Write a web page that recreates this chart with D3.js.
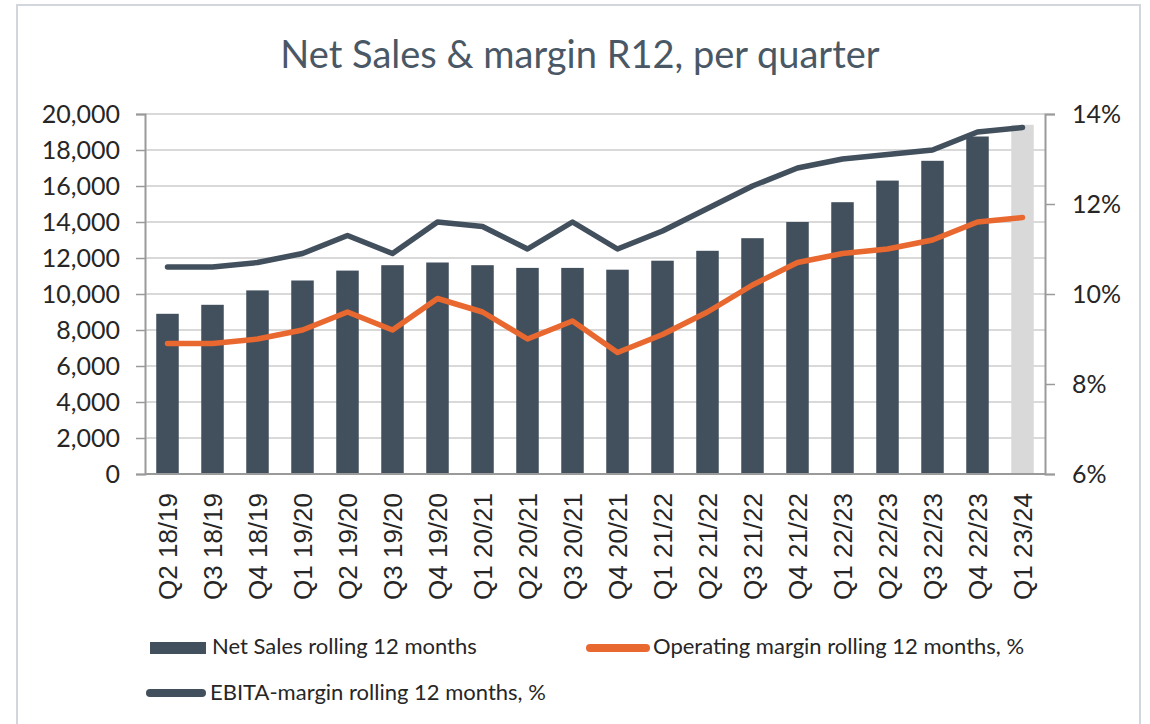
<!DOCTYPE html>
<html>
<head>
<meta charset="utf-8">
<script src="https://cdn.jsdelivr.net/npm/d3@7"></script>
<style>
  html, body { margin: 0; padding: 0; background: #fff; }
  svg { display: block; }
</style>
</head>
<body>
<div id="chart"></div>
<script>
const quarters = ["Q2 18/19", "Q3 18/19", "Q4 18/19", "Q1 19/20", "Q2 19/20", "Q3 19/20", "Q4 19/20",
  "Q1 20/21", "Q2 20/21", "Q3 20/21", "Q4 20/21", "Q1 21/22", "Q2 21/22", "Q3 21/22", "Q4 21/22",
  "Q1 22/23", "Q2 22/23", "Q3 22/23", "Q4 22/23", "Q1 23/24"];
const netSales = [8900, 9400, 10200, 10750, 11300, 11600, 11750, 11600, 11450, 11450, 11350,
  11850, 12400, 13100, 14000, 15100, 16300, 17400, 18750, 19400];
const operatingMargin = [8.9, 8.9, 9.0, 9.2, 9.6, 9.2, 9.9, 9.6, 9.0, 9.4, 8.7,
  9.1, 9.6, 10.2, 10.7, 10.9, 11.0, 11.2, 11.6, 11.7];
const ebitaMargin = [10.6, 10.6, 10.7, 10.9, 11.3, 10.9, 11.6, 11.5, 11.0, 11.6, 11.0,
  11.4, 11.9, 12.4, 12.8, 13.0, 13.1, 13.2, 13.6, 13.7];
const leftTicks = [0, 2000, 4000, 6000, 8000, 10000, 12000, 14000, 16000, 18000, 20000];
const rightTicks = [6, 8, 10, 12, 14];

const W = 1150, H = 724;
const plot = { left: 145, right: 1045, top: 114, bottom: 474 };
const slate = "#424f5d";
const orange = "#e8682f";
const grey = "#d9d9d9";

const svg = d3.select("#chart").append("svg")
  .attr("width", W)
  .attr("height", H);

// chart frame
svg.append("rect")
  .attr("x", 17).attr("y", 5)
  .attr("width", 1123).attr("height", 740)
  .attr("fill", "#fff")
  .attr("stroke", "#d3d7dd")
  .attr("stroke-width", 2);

svg.append("text")
  .attr("x", 580)
  .attr("y", 68)
  .attr("text-anchor", "middle")
  .attr("font-family", "Lato, 'Open Sans', sans-serif")
  .attr("font-size", "38px")
  .attr("fill", "#4a5866")
  .text("Net Sales & margin R12, per quarter");

const x = d3.scaleBand()
  .domain(quarters)
  .range([plot.left, plot.right])
  .paddingInner(0.5)
  .paddingOuter(0.25);

const y = d3.scaleLinear().domain([0, 20000]).range([plot.bottom, plot.top]);
const y2 = d3.scaleLinear().domain([6, 14]).range([plot.bottom, plot.top]);

// gridlines
svg.append("g")
  .selectAll("line")
  .data(leftTicks.slice(1))
  .enter().append("line")
  .attr("x1", plot.left).attr("x2", plot.right)
  .attr("y1", d => y(d)).attr("y2", d => y(d))
  .attr("stroke", grey)
  .attr("stroke-width", 2);

// bars
svg.append("g")
  .selectAll("rect")
  .data(netSales)
  .enter().append("rect")
  .attr("x", (d, i) => x(quarters[i]))
  .attr("y", d => y(d))
  .attr("width", x.bandwidth())
  .attr("height", d => y(0) - y(d))
  .attr("fill", (d, i) => i === netSales.length - 1 ? "#d9d9d9" : slate);

// axes
const yAxis = svg.append("g")
  .attr("transform", `translate(${plot.left},0)`)
  .call(d3.axisLeft(y).tickValues(leftTicks).tickSize(9).tickPadding(16).tickFormat(d3.format(",")));

const yAxis2 = svg.append("g")
  .attr("transform", `translate(${plot.right},0)`)
  .call(d3.axisRight(y2).tickValues(rightTicks).tickSize(10).tickPadding(17).tickFormat(d => d + "%"));

const xAxis = svg.append("g")
  .attr("transform", `translate(0,${plot.bottom})`)
  .call(d3.axisBottom(x).tickSize(0).tickPadding(0));

[yAxis, yAxis2, xAxis].forEach(a => {
  a.select(".domain").attr("stroke", "#9a9a9a").attr("stroke-width", 2);
  a.selectAll(".tick line").attr("stroke", "#9a9a9a").attr("stroke-width", 1.5);
});
xAxis.select(".domain").attr("d", `M${plot.left},0H${plot.right}`);

[yAxis, yAxis2].forEach(a => {
  a.selectAll("text")
    .attr("font-family", "Lato, 'Open Sans', sans-serif")
    .attr("font-size", "25px")
    .attr("fill", "#262626");
});

xAxis.selectAll("text")
  .attr("font-family", "'Liberation Sans', Arial, sans-serif")
  .attr("font-size", "26px")
  .attr("fill", "#262626")
  .attr("text-anchor", "end")
  .attr("transform", "rotate(-90)")
  .attr("x", -19)
  .attr("y", 0)
  .attr("dy", "0.36em");

// margin lines
const line = d3.line()
  .x((d, i) => x(quarters[i]) + x.bandwidth() / 2)
  .y(d => y2(d));

svg.append("path")
  .datum(ebitaMargin)
  .attr("fill", "none")
  .attr("stroke", slate)
  .attr("stroke-width", 5.5)
  .attr("stroke-linecap", "round")
  .attr("stroke-linejoin", "round")
  .attr("d", line);

svg.append("path")
  .datum(operatingMargin)
  .attr("fill", "none")
  .attr("stroke", orange)
  .attr("stroke-width", 5.5)
  .attr("stroke-linecap", "round")
  .attr("stroke-linejoin", "round")
  .attr("d", line);

// legend
const legend = svg.append("g")
  .attr("font-family", "Lato, 'Open Sans', sans-serif")
  .attr("font-size", "22px")
  .attr("fill", "#262626");

legend.append("rect")
  .attr("x", 150).attr("y", 642)
  .attr("width", 56).attr("height", 12)
  .attr("fill", slate);
legend.append("text")
  .attr("x", 212).attr("y", 654)
  .text("Net Sales rolling 12 months");

legend.append("line")
  .attr("x1", 590).attr("x2", 646)
  .attr("y1", 648).attr("y2", 648)
  .attr("stroke", orange)
  .attr("stroke-width", 8)
  .attr("stroke-linecap", "round");
legend.append("text")
  .attr("x", 653).attr("y", 654)
  .text("Operating margin rolling 12 months, %");

legend.append("line")
  .attr("x1", 150).attr("x2", 202)
  .attr("y1", 693).attr("y2", 693)
  .attr("stroke", slate)
  .attr("stroke-width", 8)
  .attr("stroke-linecap", "round");
legend.append("text")
  .attr("x", 210).attr("y", 700)
  .text("EBITA-margin rolling 12 months, %");
</script>
</body>
</html>
